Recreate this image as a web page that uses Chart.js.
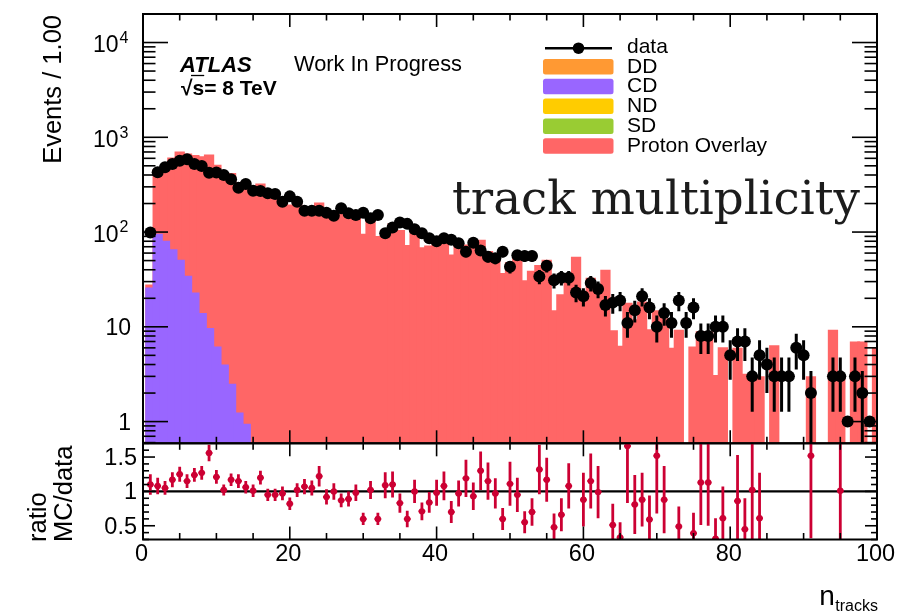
<!DOCTYPE html>
<html>
<head>
<meta charset="utf-8">
<script src="https://cdn.jsdelivr.net/npm/chart.js@4.4.1/dist/chart.umd.min.js"></script>
<style>
  html, body { margin: 0; padding: 0; background: #fff; }
  #wrap { position: relative; width: 899px; height: 613px; overflow: hidden; }
  #wrap canvas { position: absolute; left: 0; top: 0; }
</style>
</head>
<body>
<div id="wrap">
  <canvas id="mainPanel" width="899" height="613"></canvas>
  <canvas id="ratioPanel" width="899" height="613"></canvas>
</div>
<script>
// ---- histogram contents, one entry per track-multiplicity bin ----
const nTracks = [
  1, 2, 3, 4, 5, 6, 7, 8, 9, 10,
  11, 12, 13, 14, 15, 16, 17, 18, 19, 20,
  21, 22, 23, 24, 25, 26, 27, 28, 29, 30,
  31, 32, 33, 34, 35, 36, 37, 38, 39, 40,
  41, 42, 43, 44, 45, 46, 47, 48, 49, 50,
  51, 52, 53, 54, 55, 56, 57, 58, 59, 60,
  61, 62, 63, 64, 65, 66, 67, 68, 69, 70,
  71, 72, 73, 74, 75, 76, 77, 78, 79, 80,
  81, 82, 83, 84, 85, 86, 87, 88, 89, 90,
  91, 92, 93, 94, 95, 96, 97, 98, 99, 100
];

// observed events
const dataCounts = [
  99, 428, 483, 523, 566, 586, 523, 498, 423, 425,
  400, 360, 294, 322, 273, 271, 257, 252, 209, 238,
  209, 168, 168, 168, 160, 149, 178, 158, 151, 160,
  140, 151, 97, 112, 126, 122, 107, 97, 86, 80,
  86, 83, 76, 62, 77, 64, 55, 53, 62, 43,
  57, 56, 56, 34, 44, 31, 33, 33, 23, 21,
  29, 25, 17, 18, 19, 11, 15, 21, 16, 10,
  14, 11, 19, 11, 16, 8, 8, 10, 10, 5,
  7, 7, 3, 5, 4, 3, 3, 3, 6, 5,
  2, null, null, 3, 3, 1, 3, 2, 1, null
];

// stacked MC total (top layer: Proton Overlay)
const protonOverlay = [
  28, 462, 507, 612, 708, 674, 649, 632, 660, 514,
  408, 421, 338, 341, 276, 325, 244, 239, 203, 195,
  213, 180, 176, 205, 147, 149, 155, 141, 148, 96,
  143, 91, 106, 123, 105, 73, 107, 69, 72, 78,
  93, 58, 74, 74, 72, 83, 63, 51, 37, 48,
  54, 31, 39, 45, 51, 15, 22, 36, 55, 18.5,
  33, 25, 40, 9.2, 6.3, 18, 12, 18.5, 9.4, 15,
  12.3, 6, 9.3, null, 6.2, 9, 9, 3.1, 6.1, null,
  6, 3.2, 3.1, 3, null, 6.4, null, null, null, null,
  3, null, null, 9.3, 3, null, 7, 7, null, 6
];

// central diffraction component (first bins only)
const cdEvents = [26, 96, 81, 66, 51, 34.5, 23, 14, 9.7, 6.2, 4, 2.5, 1.25, 0.95];

// MC/data ratio and its uncertainty
const ratioMCdata = [
  1.10, 1.08, 1.05, 1.17, 1.25, 1.15, 1.24, 1.27, 1.56, 1.21,
  1.02, 1.17, 1.15, 1.06, 1.01, 1.20, 0.95, 0.95, 0.97, 0.82,
  1.02, 1.07, 1.05, 1.22, 0.92, 1.00, 0.87, 0.89, 0.98, 0.60,
  1.02, 0.60, 1.09, 1.10, 0.83, 0.60, 1.00, 0.71, 0.84, 0.98,
  1.08, 0.70, 0.97, 1.19, 0.93, 1.30, 1.15, 0.97, 0.60, 1.11,
  0.95, 0.55, 0.70, 1.32, 1.17, 0.48, 0.66, 1.08, null, 0.88,
  1.15, 0.99, null, 0.51, 0.33, 1.66, 0.81, 0.88, 0.59, 1.52,
  0.88, null, 0.49, null, 0.39, 1.13, 1.13, 0.31, 0.61, null,
  0.86, 0.45, 1.02, 0.61, null, null, null, null, null, null,
  1.52, null, null, null, 1.01, null, null, null, null, null
];
const ratioErr = [
  0.15, 0.12, 0.10, 0.11, 0.11, 0.10, 0.10, 0.10, 0.12, 0.10,
  0.08, 0.09, 0.10, 0.09, 0.09, 0.10, 0.09, 0.09, 0.10, 0.09,
  0.10, 0.11, 0.11, 0.15, 0.11, 0.12, 0.10, 0.11, 0.12, 0.09,
  0.13, 0.09, 0.19, 0.19, 0.14, 0.12, 0.17, 0.13, 0.15, 0.19,
  0.21, 0.16, 0.19, 0.27, 0.20, 0.28, 0.27, 0.22, 0.16, 0.32,
  0.25, 0.16, 0.20, 0.36, 0.32, 0.20, 0.24, 0.33, null, 0.39,
  0.40, 0.38, null, 0.31, 0.22, 0.83, 0.43, 0.39, 0.35, 0.84,
  0.49, null, 0.29, null, 0.30, 0.62, 0.63, 0.30, 0.46, null,
  0.67, 0.45, 0.75, 0.66, null, null, null, null, null, null,
  1.20, null, null, null, 0.80, null, null, null, null, null
];

// axis labelling
const xMajorTicks = [0, 20, 40, 60, 80, 100];
const xTickLabels = ['0', '20', '40', '60', '80', '100'];
const yMajorTicks = [1, 10, 100, 1000, 10000];
const yTickLabels = [['1', ''], ['10', ''], ['10', '2'], ['10', '3'], ['10', '4']];
const ratioMajorTicks = [0.5, 1, 1.5];
const ratioTickLabels = ['0.5', '1', '1.5'];

const SANS = '"Liberation Sans", Arial, Helvetica, sans-serif';
const COLORS = {
  dd: '#FF9933', cd: '#9966FF', nd: '#FFCC00', sd: '#99CC33',
  overlay: '#FF6666', data: '#000000', ratio: '#CC0033'
};

// ---- helpers ----
const points = (vals) => nTracks
  .map((k, i) => ({ x: k, y: vals[i] }))
  .filter(p => p.y !== null && p.y !== undefined);

const poissonBars = (vals) => nTracks
  .map((k, i) => vals[i] == null ? null : ({ x: k, y: [vals[i] - Math.sqrt(vals[i]), vals[i] + Math.sqrt(vals[i])] }))
  .filter(Boolean);

const ratioBars = nTracks
  .map((k, i) => ratioMCdata[i] == null ? null : ({ x: k, y: [ratioMCdata[i] - ratioErr[i], ratioMCdata[i] + ratioErr[i]] }))
  .filter(Boolean);

function seg(ctx, x1, y1, x2, y2) {
  ctx.beginPath(); ctx.moveTo(x1, y1); ctx.lineTo(x2, y2); ctx.stroke();
}
function text(ctx, s, x, y, font, align = 'left', baseline = 'alphabetic', color = '#000') {
  ctx.font = font; ctx.textAlign = align; ctx.textBaseline = baseline; ctx.fillStyle = color;
  ctx.fillText(s, x, y);
}

// ROOT-style x ticks (every 5, long every 20) pointing into a panel
function drawXTicks(ctx, xs, top, bottom) {
  ctx.lineWidth = 1.6;
  for (let v = 0; v <= 100; v += 5) {
    const px = xs.getPixelForValue(v);
    const len = xMajorTicks.includes(v) ? 13 : 6.5;
    seg(ctx, px, top, px, top + len);
    seg(ctx, px, bottom, px, bottom - len);
  }
}

const histBar = {
  type: 'bar', grouped: false, categoryPercentage: 1, barPercentage: 1.4,
  borderWidth: 0
};

// ---------------- main panel ----------------
const mainDecor = {
  id: 'mainDecor',
  afterDatasetsDraw(chart) {
    const { ctx, chartArea: a, scales: { x, y } } = chart;
    ctx.save();
    ctx.strokeStyle = '#000';
    drawXTicks(ctx, x, a.top, a.bottom);
    // logarithmic y ticks on both sides
    ctx.lineWidth = 1.6;
    for (let e = -1; e <= 4; e++) {
      for (let m = 1; m <= 9; m++) {
        const v = m * Math.pow(10, e);
        if (v < y.min || v > y.max * 1.0001) continue;
        const py = y.getPixelForValue(v);
        const len = m === 1 ? 25 : 12.5;
        seg(ctx, a.left, py, a.left + len, py);
        seg(ctx, a.right, py, a.right - len, py);
      }
    }
    ctx.lineWidth = 2;
    ctx.strokeRect(a.left, a.top, a.right - a.left, a.bottom - a.top);

    // y tick labels
    const big = '23px ' + SANS, sup = '16px ' + SANS;
    yMajorTicks.forEach((v, i) => {
      const py = y.getPixelForValue(v);
      const [base, exp] = yTickLabels[i];
      if (exp) {
        ctx.font = sup;
        const w = ctx.measureText(exp).width;
        text(ctx, exp, 128.5, py - 4, sup, 'right', 'middle');
        text(ctx, base, 128.5 - w - 1, py + 3.5, big, 'right', 'middle');
      } else {
        text(ctx, base, 131, py + 2, big, 'right', 'middle');
      }
    });

    // y title
    ctx.save();
    ctx.translate(60.5, 15);
    ctx.rotate(-Math.PI / 2);
    text(ctx, 'Events / 1.00', 0, 0, '25.5px ' + SANS, 'right', 'alphabetic');
    ctx.restore();

    // experiment label
    text(ctx, 'ATLAS', 180, 71.5, 'italic bold 22px ' + SANS);
    const rootFont = 'bold 21px ' + SANS;
    text(ctx, '\u221As= 8 TeV', 181, 95, rootFont);
    ctx.font = rootFont;
    const wr = ctx.measureText('\u221A').width, ws = ctx.measureText('s').width;
    ctx.lineWidth = 1.3;
    seg(ctx, 181 + wr - 1.5, 75.5, 181 + wr + ws, 75.5);
    text(ctx, 'Work In Progress', 294, 71, '21.8px ' + SANS);

    // legend
    const rows = chart.data.datasets
      .filter(d => d.legendRow !== undefined)
      .sort((p, q) => p.legendRow - q.legendRow);
    rows.forEach((d, i) => {
      const base = 52.7 + 19.8 * i;
      if (d.legendRow === 0) {
        ctx.strokeStyle = COLORS.data; ctx.lineWidth = 2.6;
        seg(ctx, 545, base - 4.5, 612, base - 4.5);
        ctx.fillStyle = COLORS.data;
        ctx.beginPath(); ctx.arc(578.5, base - 4.5, 5.8, 0, Math.PI * 2); ctx.fill();
      } else {
        ctx.fillStyle = d.backgroundColor;
        ctx.beginPath();
        ctx.roundRect(543, base - 13.5, 70.5, 15.5, 2.5);
        ctx.fill();
      }
      text(ctx, d.label, 627, base, '21px ' + SANS);
    });

    // caption
    const serif = '"DejaVu Serif", "Liberation Serif", serif';
    ctx.font = '100px ' + serif;
    const size = 100 * 408 / ctx.measureText('track multiplicity').width;
    text(ctx, 'track multiplicity', 452, 214, size.toFixed(2) + 'px ' + serif, 'left', 'alphabetic', '#1c1c1c');
    ctx.restore();
  }
};

new Chart(document.getElementById('mainPanel'), {
  type: 'bar',
  data: {
    datasets: [
      { type: 'scatter', label: 'data', legendRow: 0, data: points(dataCounts),
        pointRadius: 6, pointBorderWidth: 0, pointBackgroundColor: COLORS.data, order: 0 },
      { type: 'bar', label: 'data error', data: poissonBars(dataCounts), backgroundColor: COLORS.data,
        grouped: false, maxBarThickness: 3, borderWidth: 0, order: 1 },
      { ...histBar, label: 'DD', legendRow: 1, data: [], backgroundColor: COLORS.dd, order: 2 },
      { ...histBar, label: 'CD', legendRow: 2, data: points(cdEvents), backgroundColor: COLORS.cd, order: 3 },
      { ...histBar, label: 'ND', legendRow: 3, data: [], backgroundColor: COLORS.nd, order: 4 },
      { ...histBar, label: 'SD', legendRow: 4, data: [], backgroundColor: COLORS.sd, order: 5 },
      { ...histBar, label: 'Proton Overlay', legendRow: 5, data: points(protonOverlay), backgroundColor: COLORS.overlay, order: 6 }
    ]
  },
  options: {
    responsive: false, animation: false, events: [],
    layout: { padding: { left: 143, right: 22, top: 14, bottom: 169.7 } },
    scales: {
      x: { type: 'linear', min: 0, max: 100, offset: false, display: false },
      y: { type: 'logarithmic', min: 0.59, max: 20000, display: false }
    },
    plugins: { legend: { display: false }, tooltip: { enabled: false } }
  },
  plugins: [mainDecor]
});

// ---------------- ratio panel ----------------
const ratioDecor = {
  id: 'ratioDecor',
  beforeDatasetsDraw(chart) {
    const { ctx, chartArea: a, scales: { y } } = chart;
    ctx.save();
    ctx.strokeStyle = '#000'; ctx.lineWidth = 2.4;
    const py = y.getPixelForValue(1);
    seg(ctx, a.left, py, a.right, py);
    ctx.restore();
  },
  afterDatasetsDraw(chart) {
    const { ctx, chartArea: a, scales: { x, y } } = chart;
    ctx.save();
    ctx.strokeStyle = '#000';
    drawXTicks(ctx, x, a.top, a.bottom);
    ctx.lineWidth = 1.6;
    for (let i = 3; i <= 17; i++) {
      const v = i / 10;
      const py = y.getPixelForValue(v);
      const len = (i % 5 === 0) ? 12 : 6;
      seg(ctx, a.left, py, a.left + len, py);
      seg(ctx, a.right, py, a.right - len, py);
    }
    ctx.lineWidth = 2;
    ctx.strokeRect(a.left, a.top, a.right - a.left, a.bottom - a.top);

    const f = '23.5px ' + SANS;
    ratioMajorTicks.forEach((v, i) => {
      text(ctx, ratioTickLabels[i], 137, y.getPixelForValue(v) + 1.5, f, 'right', 'middle');
    });
    xMajorTicks.forEach((v, i) => {
      text(ctx, xTickLabels[i], x.getPixelForValue(v) - 1.5, 555, f, 'center', 'middle');
    });

    // y title on two lines
    ctx.save();
    ctx.translate(45.5, 542);
    ctx.rotate(-Math.PI / 2);
    text(ctx, 'ratio', 0, 0, '25.5px ' + SANS, 'left', 'alphabetic');
    ctx.restore();
    ctx.save();
    ctx.translate(72, 542);
    ctx.rotate(-Math.PI / 2);
    text(ctx, 'MC/data', 0, 0, '25.5px ' + SANS, 'left', 'alphabetic');
    ctx.restore();

    // x title
    ctx.font = '16px ' + SANS;
    const wt = ctx.measureText('tracks').width;
    text(ctx, 'tracks', 878, 611, '16px ' + SANS, 'right');
    text(ctx, 'n', 878 - wt - 0.5, 605, '28px ' + SANS, 'right');
    ctx.restore();
  }
};

new Chart(document.getElementById('ratioPanel'), {
  type: 'bar',
  data: {
    datasets: [
      { type: 'scatter', label: 'ratio', data: points(ratioMCdata),
        pointRadius: 3.2, pointBorderWidth: 0, pointBackgroundColor: COLORS.ratio, order: 0 },
      { type: 'scatter', label: 'ratio bin width', data: points(ratioMCdata),
        pointStyle: 'line', pointRadius: 3.4, pointBorderWidth: 2, pointBorderColor: COLORS.ratio, order: 1 },
      { type: 'bar', label: 'ratio error', data: ratioBars, backgroundColor: COLORS.ratio,
        grouped: false, maxBarThickness: 2.8, borderWidth: 0, order: 2 }
    ]
  },
  options: {
    responsive: false, animation: false, events: [],
    layout: { padding: { left: 143, right: 22, top: 443.3, bottom: 73.5 } },
    scales: {
      x: { type: 'linear', min: 0, max: 100, offset: false, display: false },
      y: { type: 'linear', min: 0.3, max: 1.7, display: false }
    },
    plugins: { legend: { display: false }, tooltip: { enabled: false } }
  },
  plugins: [ratioDecor]
});
</script>
</body>
</html>
